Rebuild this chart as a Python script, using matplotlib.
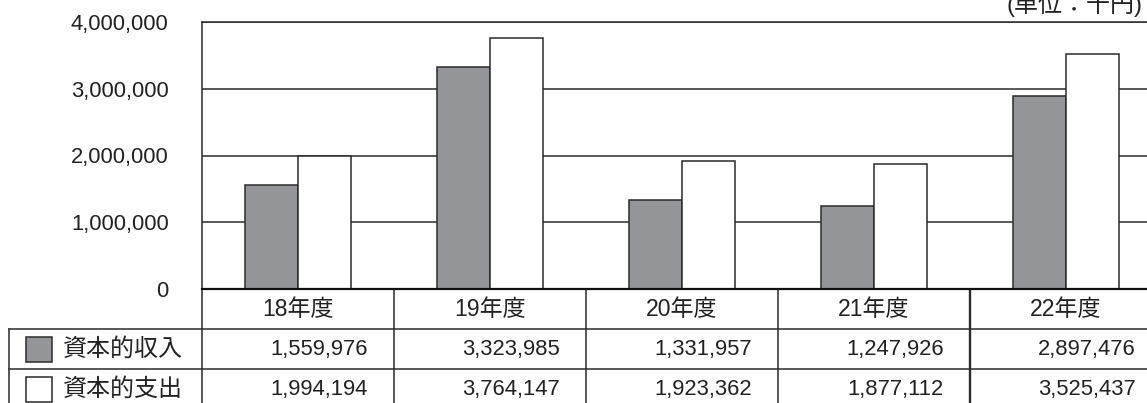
import matplotlib
matplotlib.use('Agg')
import matplotlib.pyplot as plt
from matplotlib.patches import Rectangle
from matplotlib import transforms
import numpy as np

years = ['18年度', '19年度', '20年度', '21年度', '22年度']
income = [1559976, 3323985, 1331957, 1247926, 2897476]
expend = [1994194, 3764147, 1923362, 1877112, 3525437]
series_names = ['資本的収入', '資本的支出']
yticks = [0, 1000000, 2000000, 3000000, 4000000]
unit_label = '(単位：千円)'

W, H = 1147, 403
fig = plt.figure(figsize=(W / 100, H / 100), dpi=100)
FAM = ['Liberation Sans', 'Noto Sans CJK JP']
FS = 15.8
FS_CJK = 17.3
FS_YEAR = 16.6
LC = '#2b2b2b'
GRAY = '#939598'
TC = '#222222'
LW = 1.1

ax_l, ax_r, ax_t, ax_b = 202, 1162, 22, 289
ax = fig.add_axes([ax_l / W, 1 - ax_b / H, (ax_r - ax_l) / W, (ax_b - ax_t) / H])
x = np.arange(len(years))
bw = 53 / 192
ax.bar(x - bw / 2, income, bw, color=GRAY, edgecolor=LC, linewidth=LW, zorder=3)
ax.bar(x + bw / 2, expend, bw, color='white', edgecolor=LC, linewidth=LW, zorder=3)
ax.set_xlim(-0.5, len(years) - 0.5)
ax.set_ylim(0, 4000000)
ax.set_yticks(yticks)
ax.set_yticklabels([f'{v:,}' for v in yticks], fontfamily=FAM, fontsize=FS, color=TC)
ax.tick_params(axis='y', length=0, pad=24)
ax.set_xticks([])
ax.yaxis.grid(True, color=LC, linewidth=LW, zorder=0)
ax.set_axisbelow(True)
for s in ['left', 'top', 'right']:
    ax.spines[s].set_color(LC)
    ax.spines[s].set_linewidth(LW)
ax.spines['bottom'].set_color('#111111')
ax.spines['bottom'].set_linewidth(1.6)
ax.spines['bottom'].set_zorder(5)

# overlay in pixel coordinates for the data table
tb = fig.add_axes([0, 0, 1, 1], zorder=-1)
tb.set_xlim(0, W)
tb.set_ylim(H, 0)
tb.axis('off')
trans = transforms.blended_transform_factory(ax.transData, tb.transData)

y_top, y_r1, y_r2, y_bot = 289, 329, 369, 410
for k in range(len(years) + 1):
    lw = 1.7 if k == 4 else LW
    tb.plot([k - 0.5, k - 0.5], [y_top, y_bot], color=LC, lw=lw, transform=trans, clip_on=False)
tb.plot([9, W], [y_r1, y_r1], color=LC, lw=LW)
tb.plot([9, W], [y_r2, y_r2], color=LC, lw=LW)
tb.plot([9, 9], [y_r1, y_bot], color=LC, lw=LW)

for k, yl in enumerate(years):
    tb.text(k, 310, yl, transform=trans, ha='center', va='center',
            fontfamily=FAM, fontsize=FS_YEAR, color=TC)

val_trans = transforms.offset_copy(trans, fig=fig, x=-26, y=0, units='dots')
for row_vals, yc in [(income, 350), (expend, 389)]:
    for k, v in enumerate(row_vals):
        tb.text(k + 0.5, yc, f'{v:,}', transform=val_trans, ha='right', va='center',
                fontfamily=FAM, fontsize=FS, color=TC)

for name, col, yc in [(series_names[0], GRAY, 349), (series_names[1], 'white', 389)]:
    tb.add_patch(Rectangle((26, yc - 12.5), 26, 25, facecolor=col, edgecolor=LC, lw=LW))
    tb.text(63, yc, name, ha='left', va='center', fontfamily=FAM, fontsize=FS_CJK, color=TC)

tb.text(1006, 4, unit_label, ha='left', va='center', fontfamily=FAM, fontsize=FS_CJK, color=TC)

fig.savefig('out.png', dpi=100)
